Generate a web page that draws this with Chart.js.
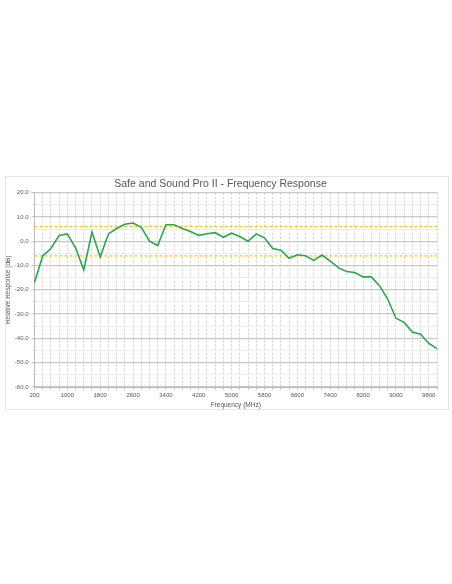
<!DOCTYPE html>
<html>
<head>
<script src="https://cdn.jsdelivr.net/npm/chart.js@4"></script>
<style>
body{margin:0;background:#fff;}
#box{position:absolute;left:5px;top:176px;width:442px;height:232px;border:1px solid #e4e4e4;}
</style>
</head>
<body>
<div id="box"><canvas id="c"></canvas></div>
<script>
var freqs = [];
for (var f = 200; f <= 10000; f += 200) freqs.push(String(f));
var response = [-17,-6.1,-3,2.4,3,-2.7,-11.8,3.8,-6.5,3,5.2,7,7.5,5.7,0,-1.8,6.8,6.8,5.2,4,
  2.4,3.1,3.5,1.6,3.3,1.9,0,3,1.4,-3,-3.7,-7,-5.6,-6,-7.9,-5.7,-8.2,-10.9,-12.5,-12.9,
  -14.7,-14.7,-18.3,-23.8,-31.7,-33.4,-37.4,-38.3,-42.1,-44.2];
var upperLimit = 6, lowerLimit = -6;

function flat(v){ return freqs.map(function(){ return v; }); }

new Chart(document.getElementById("c"), {
  type: "line",
  data: {
    labels: freqs,
    datasets: [
      {data: response, borderColor: "#2ea44f", borderWidth: 1.6, pointRadius: 0, tension: 0},
      {data: flat(upperLimit), borderColor: "#f5c518", borderWidth: 1.2, borderDash: [3,2], pointRadius: 0},
      {data: flat(lowerLimit), borderColor: "#f5c518", borderWidth: 1.2, borderDash: [3,2], pointRadius: 0}
    ]
  },
  options: {
    responsive: true, maintainAspectRatio: false, animation: false,
    layout: {padding: {right: 11, top: 0, bottom: 0, left: -2}},
    plugins: {
      legend: {display: false},
      title: {display: true, text: "Safe and Sound Pro II - Frequency Response", color: "#555",
        font: {family: "Arial", size: 10.5, weight: "normal"}, padding: {top: 1, bottom: 2}}
    },
    scales: {
      x: {
        offset: false,
        title: {display: true, text: "Frequency (MHz)", color: "#555", font: {family: "Arial", size: 6.5}, padding: 0},
        ticks: {color: "#555", font: {family: "Arial", size: 6}, maxRotation: 0, autoSkip: false, padding: 2,
          callback: function(v, i){ return i % 4 === 0 ? this.getLabelForValue(v) : ""; }},
        grid: {color: "#ccc", tickLength: 3},
        border: {dash: [2,2], color: "#bbb"}
      },
      y: {
        min: -60, max: 20,
        title: {display: true, text: "Relative Response (dB)", color: "#555", font: {family: "Arial", size: 6.5}, padding: 0},
        ticks: {stepSize: 5, color: "#555", font: {family: "Arial", size: 6},
          callback: function(v){ return v % 10 === 0 ? v.toFixed(1) : ""; }},
        grid: {color: function(c){ return c.tick && c.tick.value % 10 === 0 ? "#c8c8c8" : "#ececec"; },
          lineWidth: function(c){ return c.tick && c.tick.value % 10 === 0 ? 1.3 : 1; }, tickLength: 3},
        border: {color: "#bbb"}
      }
    }
  }
});
</script>
</body>
</html>
